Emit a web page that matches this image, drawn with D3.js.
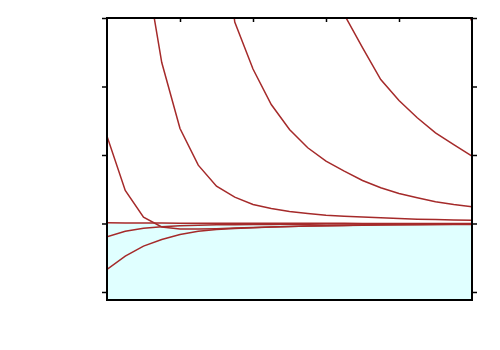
<!DOCTYPE html>
<html>
<head>
<meta charset="utf-8">
<script src="https://cdn.jsdelivr.net/npm/d3@7"></script>
<style>
  body { margin: 0; background: #fff; }
  svg { display: block; }
</style>
</head>
<body>
<svg id="chart" width="500" height="350"></svg>
<script>
// sample positions along x
const xs = [0, 1, 2, 3, 4, 5, 6, 7, 8, 9, 10, 11, 12, 13, 14, 15, 16, 17, 18, 19, 20];
const xTicks = [4, 8, 12, 16];
const yTicks = [-1, 0, 1, 2, 3];

// curves (null = far above the frame)
const curveA = [1.274, 0.482, 0.092, -0.051, -0.080, -0.082, -0.076, -0.067, -0.058, -0.050, -0.044, -0.038, -0.032, -0.028, -0.023, -0.020, -0.018, -0.015, -0.013, -0.012, -0.010];
const curveB = [null, null, 3.93, 2.35, 1.387, 0.851, 0.545, 0.384, 0.277, 0.219, 0.175, 0.146, 0.121, 0.107, 0.095, 0.083, 0.073, 0.063, 0.057, 0.052, 0.048];
const curveC = [null, null, null, null, null, null, 5.2, 2.94, 2.255, 1.737, 1.372, 1.105, 0.909, 0.764, 0.628, 0.521, 0.438, 0.375, 0.317, 0.277, 0.244];
const curveD = [null, null, null, null, null, null, null, null, null, null, null, null, 4.6, 3.05, 2.569, 2.102, 1.796, 1.543, 1.324, 1.153, 0.982];
const curveE = [null, null, null, null, null, null, null, null, null, null, null, null, null, null, null, null, null, null, null, 3.48, 2.95];
const curveF = [0.010, 0.008, 0.007, 0.006, 0.005, 0.004, 0.004, 0.003, 0.003, 0.003, 0.002, 0.002, 0.002, 0.002, 0.001, 0.001, 0.001, 0.001, 0.001, 0.001, 0.001];
const negA = [-0.194, -0.112, -0.069, -0.047, -0.034, -0.025, -0.020, -0.018, -0.015, -0.013, -0.012, -0.010, -0.009, -0.007, -0.006, -0.006, -0.004, -0.004, -0.003, -0.003, -0.003];
const negB = [-0.672, -0.477, -0.331, -0.234, -0.161, -0.112, -0.088, -0.073, -0.061, -0.051, -0.044, -0.038, -0.032, -0.028, -0.025, -0.022, -0.019, -0.018, -0.016, -0.015, -0.013];

const series = [curveF, negA, negB, curveA, curveB, curveC, curveD, curveE];

const plotL = 107, plotR = 472, plotT = 18, plotB = 300;

const x = d3.scaleLinear().domain([0, 20]).range([plotL, plotR]);
const y = d3.scaleLinear().domain([-1.117, 3]).range([plotB, plotT]);

const svg = d3.select("#chart");

svg.append("clipPath").attr("id", "plotclip")
  .append("rect")
    .attr("x", plotL).attr("y", plotT)
    .attr("width", plotR - plotL).attr("height", plotB - plotT);

// shaded area below zero
svg.append("rect")
    .attr("x", plotL)
    .attr("y", y(0))
    .attr("width", plotR - plotL)
    .attr("height", plotB - y(0))
    .attr("fill", "#e0ffff");

const line = d3.line()
    .defined(d => d != null)
    .x((d, i) => x(xs[i]))
    .y(d => y(d));

svg.append("g")
    .attr("clip-path", "url(#plotclip)")
  .selectAll("path")
  .data(series)
  .enter().append("path")
    .attr("d", line)
    .attr("fill", "none")
    .attr("stroke", "#a52a2a")
    .attr("stroke-width", 1.5);

// ticks
svg.append("g")
    .attr("transform", "translate(" + plotL + ",0)")
    .call(d3.axisLeft(y).tickValues(yTicks).tickSize(5).tickFormat(""))
    .call(g => g.select(".domain").remove());
svg.append("g")
    .attr("transform", "translate(" + plotR + ",0)")
    .call(d3.axisRight(y).tickValues(yTicks).tickSize(5).tickFormat(""))
    .call(g => g.select(".domain").remove());
svg.append("g")
    .attr("transform", "translate(0," + plotT + ")")
    .call(d3.axisTop(x).tickValues(xTicks).tickSize(-4).tickFormat(""))
    .call(g => g.select(".domain").remove());
svg.selectAll(".tick line").attr("stroke", "#000").attr("stroke-width", 1.5);

// frame
svg.append("rect")
    .attr("x", plotL).attr("y", plotT)
    .attr("width", plotR - plotL).attr("height", plotB - plotT)
    .attr("fill", "none")
    .attr("stroke", "#000")
    .attr("stroke-width", 2);
</script>
</body>
</html>
